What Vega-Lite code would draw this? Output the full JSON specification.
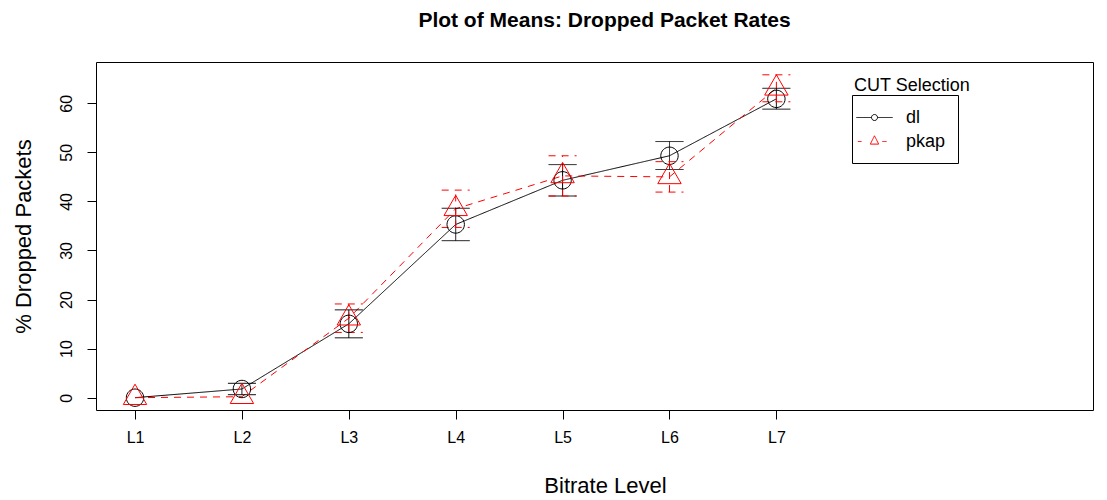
{
  "$schema": "https://vega.github.io/schema/vega-lite/v6.json",
  "width": 997,
  "height": 348,
  "autosize": {"type": "none"},
  "padding": {"left": 96, "top": 62, "right": 14, "bottom": 90},
  "background": "white",
  "title": {
    "text": "Plot of Means: Dropped Packet Rates",
    "fontSize": 21,
    "fontWeight": "bold",
    "font": "Liberation Sans",
    "color": "black",
    "anchor": "middle",
    "frame": "group",
    "baseline": "alphabetic",
    "offset": 14,
    "dx": 10
  },
  "config": {
    "view": {"stroke": "black", "strokeWidth": 1},
    "font": "Liberation Sans",
    "axis": {"labelFont": "Liberation Sans", "titleFont": "Liberation Sans", "labelColor": "black", "titleColor": "black", "grid": false, "domain": false, "tickColor": "black", "tickSize": 9, "tickWidth": 1, "labelFontSize": 16, "labelOverlap": false, "labelFlush": false, "titleFontSize": 22, "titleFontWeight": "normal"},
    "axisY": {
      "tickCount": 7,
      "labelAngle": 270,
      "labelAlign": "center",
      "labelBaseline": "bottom",
      "labelPadding": 13,
      "titleAngle": 270,
      "titleBaseline": "alphabetic",
      "titleAlign": "center",
      "titleX": -66,
      "titleY": 174
    },
    "legend": {"labelFont": "Liberation Sans", "titleFont": "Liberation Sans"}
  },
  "data": {
    "values": [
      {"series": "dl", "level": 1, "mean": 0, "lo": null, "hi": null},
      {"series": "dl", "level": 2, "mean": 1.77, "lo": 0.61, "hi": 2.93},
      {"series": "dl", "level": 3, "mean": 15.05, "lo": 12.2, "hi": 17.9},
      {"series": "dl", "level": 4, "mean": 35.3, "lo": 32.0, "hi": 38.6},
      {"series": "dl", "level": 5, "mean": 44.3, "lo": 41.1, "hi": 47.5},
      {"series": "dl", "level": 6, "mean": 49.3, "lo": 46.5, "hi": 52.2},
      {"series": "dl", "level": 7, "mean": 60.9, "lo": 58.8, "hi": 63.05},
      {"series": "pkap", "level": 1, "mean": 0, "lo": null, "hi": null},
      {"series": "pkap", "level": 2, "mean": 0.2, "lo": null, "hi": null},
      {"series": "pkap", "level": 3, "mean": 16.2, "lo": 13.3, "hi": 19.1},
      {"series": "pkap", "level": 4, "mean": 38.5, "lo": 34.7, "hi": 42.3},
      {"series": "pkap", "level": 5, "mean": 45.2, "lo": 41.1, "hi": 49.3},
      {"series": "pkap", "level": 6, "mean": 45.0, "lo": 41.9, "hi": 48.1},
      {"series": "pkap", "level": 7, "mean": 63.05, "lo": 60.3, "hi": 65.8}
    ]
  },
  "encoding": {
    "x": {
      "field": "level",
      "type": "quantitative",
      "scale": {"domain": [0.635, 9.962], "nice": false, "zero": false},
      "axis": {
        "values": [1, 2, 3, 4, 5, 6, 7],
        "labelExpr": "'L' + datum.value",
        "title": "Bitrate Level",
        "labelPadding": 10,
        "titleBaseline": "alphabetic",
        "titleX": 509,
        "titleY": 82
      }
    },
    "color": {
      "field": "series",
      "type": "nominal",
      "scale": {"domain": ["dl", "pkap"], "range": ["#000000", "#ff0000"]},
      "legend": {
        "title": null,
        "orient": "none",
        "legendX": 756,
        "legendY": 33,
        "padding": 12,
        "strokeColor": "black",
        "symbolSize": 400,
        "symbolStrokeWidth": 1,
        "symbolOpacity": 1,
        "symbolDash": [1, 0],
        "labelOffset": 21,
        "rowPadding": 4,
        "labelFontSize": 18,
        "labelColor": "black"
      }
    }
  },
  "layer": [
    {
      "mark": {"type": "point", "filled": false, "strokeWidth": 1, "size": 400},
      "encoding": {
        "y": {"field": "mean", "type": "quantitative", "title": "% Dropped Packets", "scale": {"domain": [-2.51, 68.41], "nice": false, "zero": false}},
        "shape": {
          "field": "series",
          "type": "nominal",
          "scale": {"domain": ["dl", "pkap"], "range": ["M-1.81,0H-0.3M0.3,0H1.81M0.3,0A0.3,0.3,0,1,1,-0.3,0A0.3,0.3,0,1,1,0.3,0", "M-1.67,0H-1.3M0.79,0H1.21M0,-0.57L0.42,0.26L-0.42,0.26Z"]}
        },
        "opacity": {
          "field": "series",
          "type": "nominal",
          "scale": {"range": [0, 0]},
          "legend": {
            "title": "CUT Selection",
            "values": [],
            "orient": "none",
            "legendX": 758,
            "legendY": 15,
            "padding": 0,
            "titleFontSize": 18,
            "titleFontWeight": "normal",
            "titleColor": "black"
          }
        }
      }
    },
    {
      "mark": {"type": "line", "strokeWidth": 1},
      "encoding": {
        "y": {"field": "mean", "type": "quantitative", "title": "% Dropped Packets"},
        "strokeDash": {"field": "series", "type": "nominal", "scale": {"domain": ["pkap", "dl"], "range": [[7, 6], [1, 0]]}, "legend": null}
      }
    },
    {
      "mark": {"type": "rule", "strokeWidth": 1},
      "encoding": {
        "y": {"field": "lo", "type": "quantitative", "title": "% Dropped Packets"},
        "y2": {"field": "hi"},
        "strokeDash": {"field": "series", "type": "nominal", "scale": {"domain": ["pkap", "dl"], "range": [[7, 6], [1, 0]]}, "legend": null}
      }
    },
    {
      "mark": {"type": "point", "shape": "M-1,0H1", "size": 784, "filled": false, "strokeWidth": 1, "opacity": 1},
      "encoding": {
        "y": {"field": "lo", "type": "quantitative", "title": "% Dropped Packets"},
        "strokeDash": {"field": "series", "type": "nominal", "scale": {"domain": ["pkap", "dl"], "range": [[7, 6], [1, 0]]}, "legend": null}
      }
    },
    {
      "mark": {"type": "point", "shape": "M-1,0H1", "size": 784, "filled": false, "strokeWidth": 1, "opacity": 1},
      "encoding": {
        "y": {"field": "hi", "type": "quantitative", "title": "% Dropped Packets"},
        "strokeDash": {"field": "series", "type": "nominal", "scale": {"domain": ["pkap", "dl"], "range": [[7, 6], [1, 0]]}, "legend": null}
      }
    },
    {
      "transform": [{"filter": "datum.series === 'dl'"}],
      "mark": {"type": "point", "shape": "M0.87,0A0.87,0.87,0,1,1,-0.87,0A0.87,0.87,0,1,1,0.87,0Z", "size": 400, "filled": false, "strokeWidth": 1, "opacity": 1},
      "encoding": {
        "y": {"field": "mean", "type": "quantitative", "title": "% Dropped Packets"}
      }
    },
    {
      "transform": [{"filter": "datum.series === 'pkap'"}],
      "mark": {"type": "point", "shape": "M0,-1.35L1.17,0.68L-1.17,0.68Z", "size": 400, "filled": false, "strokeWidth": 1, "opacity": 1},
      "encoding": {
        "y": {"field": "mean", "type": "quantitative", "title": "% Dropped Packets"}
      }
    }
  ]
}
